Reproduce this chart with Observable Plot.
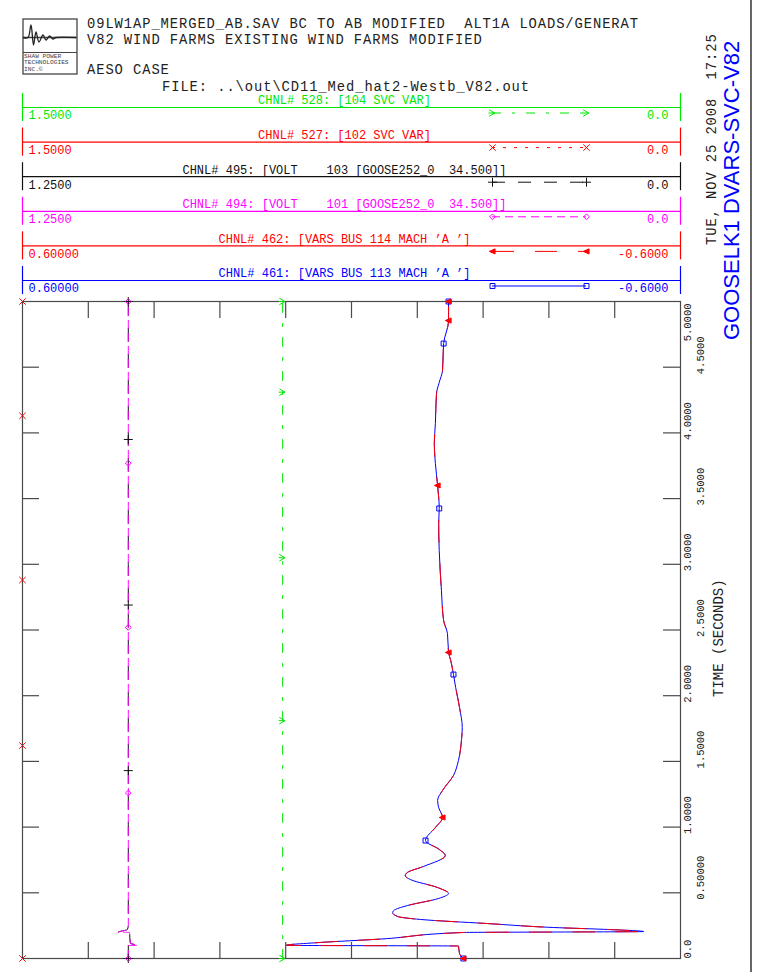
<!DOCTYPE html>
<html><head><meta charset="utf-8">
<script src="https://cdn.jsdelivr.net/npm/d3@7"></script>
<script src="https://cdn.jsdelivr.net/npm/@observablehq/plot@0.6"></script>
<style>
body{margin:0;background:#fff;}
#page{position:relative;width:759px;height:972px;overflow:hidden;background:#fff;}
#page svg{position:absolute;left:0;}
#page svg text{white-space:pre;}
</style></head><body><div id="page"></div>
<script>
// ---------------- DATA ----------------
const headerLines = ["09LW1AP_MERGED_AB.SAV BC TO AB MODIFIED  ALT1A LOADS/GENERAT", "V82 WIND FARMS EXISTING WIND FARMS MODIFIED"];
const caseLabel = "AESO CASE";
const fileLabel = "FILE: ..\\out\\CD11_Med_hat2-Westb_V82.out";
const dateLabel = "TUE, NOV 25 2008  17:25";
const plotTitle = "GOOSELK1 DVARS-SVC-V82";
const timeAxisTitle = "TIME (SECONDS)";

const chanIds = ["528", "527", "495", "494", "462", "461"];
const chanTitles = [
  "CHNL# 528: [104 SVC VAR]",
  "CHNL# 527: [102 SVC VAR]",
  "CHNL# 495: [VOLT    103 [GOOSE252_0  34.500]]",
  "CHNL# 494: [VOLT    101 [GOOSE252_0  34.500]]",
  "CHNL# 462: [VARS BUS 114 MACH \u2019A \u2019]",
  "CHNL# 461: [VARS BUS 113 MACH \u2019A \u2019]"
];
const chanMax = [1.5, 1.5, 1.25, 1.25, 0.6, 0.6];
const chanMin = [0.0, 0.0, 0.0, 0.0, -0.6, -0.6];
const chanMaxLabels = ["1.5000", "1.5000", "1.2500", "1.2500", "0.60000", "0.60000"];
const chanMinLabels = ["0.0", "0.0", "0.0", "0.0", "-0.6000", "-0.6000"];

const timeTickValues = [0, 0.5, 1, 1.5, 2, 2.5, 3, 3.5, 4, 4.5, 5];
const timeTickLabels = ["0.0", "0.50000", "1.0000", "1.5000", "2.0000", "2.5000", "3.0000", "3.5000", "4.0000", "4.5000", "5.0000"];
const valueDivisions = [0.1, 0.2, 0.3, 0.4, 0.5, 0.6, 0.7, 0.8, 0.9];

// SVC vars (channels 528, 527)
const tSvc = [0, 0.1, 0.2, 1, 2, 3, 4, 5];
const v528 = [0.907, 0.907, 0.907, 0.907, 0.907, 0.907, 0.907, 0.907];
const v527 = [1.5, 1.5, 1.5, 1.5, 1.5, 1.5, 1.5, 1.5];
// bus voltages (channels 495, 494)
const tVolt = [0, 0.099, 0.1, 0.115, 0.199, 0.2, 0.22, 0.25, 1, 2, 3, 4, 5];
const v495 = [1.049, 1.049, 1.031, 1.045, 1.047, 1.068, 1.051, 1.049, 1.049, 1.049, 1.049, 1.049, 1.049];
const v494 = [1.049, 1.049, 1.031, 1.045, 1.047, 1.068, 1.051, 1.049, 1.049, 1.049, 1.049, 1.049, 1.049];
// machine vars (channels 462, 461)
const tMach = [0, 0.038, 0.095, 0.1, 0.122, 0.148, 0.198, 0.205, 0.22, 0.236, 0.266, 0.297, 0.32, 0.35, 0.373, 0.403, 0.457, 0.495, 0.54, 0.6, 0.63, 0.655, 0.7, 0.784, 0.83, 0.898, 0.997, 1.073, 1.149, 1.202, 1.279, 1.393, 1.507, 1.682, 1.758, 1.91, 2.062, 2.161, 2.268, 2.329, 2.473, 2.572, 2.801, 3.105, 3.311, 3.425, 3.6, 3.767, 3.919, 4.072, 4.3, 4.384, 4.475, 4.68, 4.855, 5.0];
const v461 = [-0.204, -0.197, -0.195, 0.119, 0.057, -0.053, -0.204, -0.533, -0.472, -0.368, -0.248, -0.126, -0.084, -0.075, -0.080, -0.102, -0.159, -0.177, -0.157, -0.108, -0.098, -0.102, -0.131, -0.171, -0.160, -0.135, -0.153, -0.166, -0.159, -0.157, -0.166, -0.186, -0.195, -0.201, -0.202, -0.197, -0.190, -0.186, -0.181, -0.177, -0.175, -0.168, -0.164, -0.160, -0.159, -0.160, -0.157, -0.153, -0.151, -0.153, -0.155, -0.160, -0.166, -0.168, -0.177, -0.177];
const v462 = [-0.204, -0.197, -0.195, 0.119, 0.057, -0.053, -0.204, -0.533, -0.472, -0.368, -0.248, -0.126, -0.084, -0.075, -0.080, -0.102, -0.159, -0.177, -0.157, -0.108, -0.098, -0.102, -0.131, -0.171, -0.160, -0.135, -0.153, -0.166, -0.159, -0.157, -0.166, -0.186, -0.195, -0.201, -0.202, -0.197, -0.190, -0.186, -0.181, -0.177, -0.175, -0.168, -0.164, -0.160, -0.159, -0.160, -0.157, -0.153, -0.151, -0.153, -0.155, -0.160, -0.166, -0.168, -0.177, -0.177];

// marker points along each trace
const mt528 = [0, 1.81, 3.05, 4.31, 5.0], mv528 = [0.907, 0.907, 0.907, 0.907, 0.907];
const mt527 = [0, 1.62, 2.88, 4.13, 5.0], mv527 = [1.5, 1.5, 1.5, 1.5, 1.5];
const mt495 = [0, 1.43, 2.69, 3.95, 5.0], mv495 = [1.049, 1.049, 1.049, 1.049, 1.049];
const mt494 = [0, 1.26, 2.52, 3.77, 5.0], mv494 = [1.049, 1.049, 1.049, 1.049, 1.049];
const mt462 = [0, 1.073, 2.329, 3.6, 4.855, 5.0], mv462 = [-0.204, -0.166, -0.177, -0.157, -0.177, -0.177];
const mt461 = [0, 0.898, 2.161, 3.425, 4.68, 5.0], mv461 = [-0.204, -0.135, -0.186, -0.160, -0.168, -0.177];

// ---------------- STYLE ----------------
const GREEN = "#00e800", RED = "#ff0000", BLACK = "#111111", MAGENTA = "#ff00ff", BLUE = "#0000ff";
const FRAME = "#4a4a4a";
const MONO = "'Liberation Mono', 'DejaVu Sans Mono', monospace";

function sym(fn) { return {draw(ctx, size) { fn(ctx, Math.sqrt(size / Math.PI)); }}; }
const symChevron = sym((c, r) => { c.moveTo(-r, -r); c.lineTo(r * 0.7, 0); c.lineTo(-r, r); c.moveTo(-r * 1.2, 0); c.lineTo(r * 0.7, 0); });
const symLeftTri = sym((c, r) => { c.moveTo(-r, 0); c.lineTo(r * 0.8, -r * 0.8); c.lineTo(r * 0.8, r * 0.8); c.closePath(); });

const chanStyle = {
  "528": {color: GREEN, dash: "9,11,3,11", symbol: symChevron, r: 3.3, fill: "none"},
  "527": {color: RED, dash: "3,8", symbol: "times", r: 3.0, fill: "none"},
  "495": {color: BLACK, dash: "13,13", symbol: "plus", r: 3.0, fill: "none"},
  "494": {color: MAGENTA, dash: "8,5", symbol: "diamond2", r: 2.6, fill: "none"},
  "462": {color: RED, dash: "22,21", symbol: symLeftTri, r: 3.2, fill: RED},
  "461": {color: BLUE, dash: null, symbol: "square", r: 2.8, fill: "none"}
};

const series = {
  "528": [tSvc, v528, mt528, mv528],
  "527": [tSvc, v527, mt527, mv527],
  "495": [tVolt, v495, mt495, mv495],
  "494": [tVolt, v494, mt494, mv494],
  "462": [tMach, v462, mt462, mv462],
  "461": [tMach, v461, mt461, mv461]
};

// normalise a channel value to its own min/max strip (max at left, min at right)
const frac = (id, v) => { const i = chanIds.indexOf(id); return (chanMax[i] - v) / (chanMax[i] - chanMin[i]); };
const rowsOf = (id, ts, vs) => ts.map((t, k) => ({t, x: frac(id, vs[k])}));

const page = document.getElementById("page");

// ---------------- MAIN PLOT ----------------
const drawOrder = ["461", "462", "495", "494", "528", "527"];
const lineMarks = drawOrder.map(id => {
  const [ts, vs] = series[id]; const s = chanStyle[id];
  return Plot.line(rowsOf(id, ts, vs), {x: "x", y: "t", stroke: s.color, strokeWidth: 1,
    strokeDasharray: s.dash || undefined, curve: "monotone-y"});
});
const markerMarks = drawOrder.map(id => {
  const [, , mts, mvs] = series[id]; const s = chanStyle[id];
  return Plot.dot(rowsOf(id, mts, mvs), {x: "x", y: "t", symbol: s.symbol, r: s.r, stroke: s.color, fill: s.fill, strokeWidth: 1});
});
const innerTimes = timeTickValues.filter(t => t > 0 && t < 5);
const tickRows = timeTickValues.map((t, i) => ({t, label: timeTickLabels[i], i}));
const last = timeTickValues.length - 1;
const tickText = {x: 1, y: "t", text: "label", rotate: -90, textAnchor: "start", fontSize: 10.5, fill: "#222"};

const main = Plot.plot({
  width: 759, height: 972,
  marginLeft: 22, marginRight: 79, marginTop: 301, marginBottom: 14,
  x: {domain: [0, 1], axis: null},
  y: {domain: [0, 5], axis: null},
  style: {background: "transparent", fontFamily: MONO, overflow: "visible"},
  marks: [
    ...lineMarks,
    Plot.frame({stroke: FRAME, strokeWidth: 1.2}),
    Plot.ruleY(innerTimes, {y: d => d, x1: 0, x2: 0, insetRight: -17, stroke: FRAME, strokeWidth: 1.2}),
    Plot.ruleY(innerTimes, {y: d => d, x1: 1, x2: 1, insetLeft: -17, stroke: FRAME, strokeWidth: 1.2}),
    Plot.ruleX(valueDivisions, {x: d => d, y1: 5, y2: 5, insetBottom: -17, stroke: FRAME, strokeWidth: 1.2}),
    Plot.ruleX(valueDivisions, {x: d => d, y1: 0, y2: 0, insetTop: -16, stroke: FRAME, strokeWidth: 1.2}),
    ...markerMarks,
    Plot.text(tickRows.filter(d => d.i === 0), {...tickText, dx: 7, dy: 0}),
    Plot.text(tickRows.filter(d => d.i === last), {...tickText, textAnchor: "end", dx: 7, dy: 2}),
    Plot.text(tickRows.filter(d => d.i > 0 && d.i < last && d.i % 2 === 0), {...tickText, dx: 7, dy: 7}),
    Plot.text(tickRows.filter(d => d.i % 2 === 1), {...tickText, dx: 20, dy: 7})
  ]
});
main.style.top = "0px";
page.appendChild(main);

// ---------------- CHANNEL STRIPS (legend) ----------------
const legendRows = chanIds.map((id, i) => ({id, title: chanTitles[i], maxLabel: chanMaxLabels[i], minLabel: chanMinLabels[i]}));
const legendMarks = [];
for (const row of legendRows) {
  const s = chanStyle[row.id];
  const one = [row];
  legendMarks.push(
    Plot.ruleY(one, {y: "id", stroke: s.color, strokeWidth: 1.2}),
    Plot.tickX(one, {x: 0, y: "id", stroke: s.color, strokeWidth: 1.2}),
    Plot.tickX(one, {x: 1, y: "id", stroke: s.color, strokeWidth: 1.2}),
    Plot.text(one, {x: 0.5, y: "id", text: "title", dx: -7, dy: -7, fill: s.color}),
    Plot.text(one, {x: 0, y: "id", text: "maxLabel", textAnchor: "start", dx: 6, dy: 8, fill: s.color}),
    Plot.text(one, {x: 1, y: "id", text: "minLabel", textAnchor: "end", dx: -12, dy: 8, fill: s.color}),
    Plot.ruleY(one, {y: "id", x1: 5 / 7, x2: 6 / 7, dy: 5.5, stroke: s.color, strokeWidth: 1, strokeDasharray: s.dash || undefined}),
    Plot.dot([{...row, x: 5 / 7}, {...row, x: 6 / 7}], {x: "x", y: "id", dy: 5.5, symbol: s.symbol, r: s.r, stroke: s.color, fill: s.fill, strokeWidth: 1})
  );
}
const legend = Plot.plot({
  width: 759, height: 207,
  marginLeft: 22, marginRight: 79, marginTop: 3, marginBottom: 3,
  x: {domain: [0, 1], axis: null},
  y: {type: "band", domain: chanIds, paddingInner: 0.19, paddingOuter: 0, round: false, axis: null},
  style: {background: "transparent", fontFamily: MONO, fontSize: "12px", overflow: "visible"},
  marks: legendMarks
});
legend.style.top = "90px";
page.appendChild(legend);

// ---------------- HEADER / LABELS ----------------
const hdr = d3.select(page).append("svg")
  .attr("width", 759).attr("height", 972).style("top", "0px").style("pointer-events", "none");
hdr.append("line").attr("x1", 751).attr("x2", 751).attr("y1", 0).attr("y2", 972).attr("stroke", "#333").attr("stroke-width", 1.5);
// logo
const logo = hdr.append("g").attr("fill", "none").attr("stroke", "#444");
logo.append("rect").attr("x", 23).attr("y", 19).attr("width", 54).attr("height", 55).attr("stroke-width", 1.3);
logo.append("line").attr("x1", 23).attr("x2", 77).attr("y1", 37.5).attr("y2", 37.5).attr("stroke-width", 1.4);
logo.append("line").attr("x1", 23).attr("x2", 77).attr("y1", 52.5).attr("y2", 52.5).attr("stroke-width", 1);
logo.append("path").attr("stroke-width", 1.3).attr("stroke", "#222")
  .attr("d", d3.line().curve(d3.curveCatmullRom)([[23, 37.5], [28, 37.5], [31, 25], [33.5, 45], [36, 32], [39, 42], [43, 35], [46, 40], [49.5, 36], [53, 39], [56, 37.5], [76, 37.5]]));
const logoTxt = hdr.append("g").attr("font-family", MONO).attr("font-size", 6.2).attr("fill", "#444");
["SHAW POWER", "TECHNOLOGIES", "INC.\u00a9"].forEach((s, i) => logoTxt.append("text").attr("x", 24).attr("y", 57.5 + i * 6.6).text(s));

// header text: slightly smaller glyphs with letter spacing so the 9.2px pitch is kept
const hTxt = hdr.append("g").attr("font-family", MONO).attr("font-size", 13.8).attr("letter-spacing", 0.92).attr("fill", "#222");
const addT = (sel) => sel.attr("xml:space", "preserve").style("white-space", "pre");
addT(hTxt.append("text").attr("x", 87).attr("y", 28).text(headerLines[0]));
addT(hTxt.append("text").attr("x", 87).attr("y", 44).text(headerLines[1]));
addT(hTxt.append("text").attr("x", 87).attr("y", 74).text(caseLabel));
addT(hTxt.append("text").attr("x", 162).attr("y", 91).text(fileLabel));
addT(hTxt.append("text").attr("transform", "translate(716,245) rotate(-90)").text(dateLabel));
hdr.append("text").attr("transform", "translate(739,340) rotate(-90)")
  .attr("font-family", "'Liberation Sans', Arial, sans-serif").attr("font-size", 22).attr("fill", BLUE).text(plotTitle);
addT(hdr.append("text").attr("transform", "translate(723,697) rotate(-90)")
  .attr("font-family", MONO).attr("font-size", 14).attr("fill", "#222").text(timeAxisTitle));
</script></body></html>
